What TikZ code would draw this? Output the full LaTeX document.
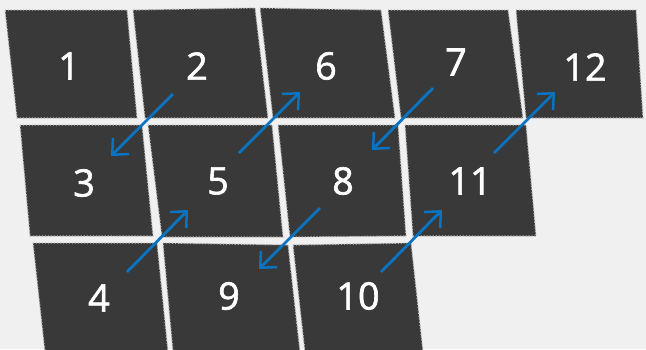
\documentclass[tikz,border=0pt]{standalone}
\usepackage{fontspec}
\setmainfont{Open Sans}
\newfontfamily\numfont{Open Sans}[FakeBold=1.6]
\usepackage{xcolor}
\usepackage{tikz}
\usetikzlibrary{arrows.meta}

\definecolor{floorbg}{HTML}{F0F0F0}
\definecolor{tilegray}{HTML}{393939}
\definecolor{arrowblue}{HTML}{0A74C4}

\begin{document}
\begin{tikzpicture}[
    x=0.02cm, y=-0.02cm,
    tile/.style={fill=tilegray, draw=gray!55, line width=0.7pt, densely dotted},
    num/.style={text=white, font=\numfont\fontsize{21.5}{24}\selectfont, inner sep=0pt},
    arrow/.style={-{Straight Barb[length=7pt, width=13pt, line width=1.4pt]}, draw=arrowblue, line width=1.6pt}
]

% Background
\fill[floorbg] (0,0) rectangle (646,349);
\useasboundingbox (0,0) rectangle (646,349);

% Top row
\filldraw[tile] (5,10) -- (127,10) -- (137,118) -- (17,118) -- cycle;
\filldraw[tile] (133,10) -- (255,8) -- (268,118) -- (145,118) -- cycle;
\filldraw[tile] (260,8) -- (381,10) -- (395,118) -- (273,118) -- cycle;
\filldraw[tile] (388,10) -- (508,10) -- (523,118) -- (401,118) -- cycle;
\filldraw[tile] (516,10) -- (636,10) -- (643,118) -- (526,118) -- cycle;

% Middle row
\filldraw[tile] (20,125) -- (142,125) -- (153,236) -- (30,236) -- cycle;
\filldraw[tile] (148,125) -- (272,125) -- (283,237) -- (162,237) -- cycle;
\filldraw[tile] (278,125) -- (398,125) -- (406,236) -- (290,237) -- cycle;
\filldraw[tile] (405,125) -- (526,125) -- (536,236) -- (413,236) -- cycle;

% Bottom row
\filldraw[tile] (33,243) -- (157,243) -- (168,352) -- (45,352) -- cycle;
\filldraw[tile] (163,243) -- (288,245) -- (300,352) -- (173,352) -- cycle;
\filldraw[tile] (293,245) -- (411,243) -- (423,352) -- (305,352) -- cycle;

% Numbers
\node[num] (n1) at (69,66) {1};
\node[num] (n2) at (197,66) {2};
\node[num] (n6) at (326,66) {6};
\node[num] (n7) at (456,62) {7};
\node[num] (n12) at (585,67) {12};
\node[num] (n3) at (84,183) {3};
\node[num] (n5) at (218,181) {5};
\node[num] (n8) at (343,181) {8};
\node[num] (n11) at (470,181) {11};
\node[num] (n4) at (99,298) {4};
\node[num] (n9) at (229,296) {9};
\node[num] (n10) at (358,296) {10};

% Arrow ends
\coordinate (s2) at (173,94);   \coordinate (e3) at (111,156);
\coordinate (s4) at (127,272);  \coordinate (e5) at (188,210);
\coordinate (s5) at (239,153);  \coordinate (e6) at (300,92);
\coordinate (s7) at (433,88);   \coordinate (e8) at (372,150);
\coordinate (s8) at (320,208);  \coordinate (e9) at (259,269);
\coordinate (s10) at (381,272); \coordinate (e11) at (442,210);
\coordinate (s11) at (494,153); \coordinate (e12) at (555,92);

% Arrows
\draw[arrow] (s2) -- (e3);
\draw[arrow] (s4) -- (e5);
\draw[arrow] (s5) -- (e6);
\draw[arrow] (s7) -- (e8);
\draw[arrow] (s8) -- (e9);
\draw[arrow] (s10) -- (e11);
\draw[arrow] (s11) -- (e12);

\end{tikzpicture}
\end{document}
